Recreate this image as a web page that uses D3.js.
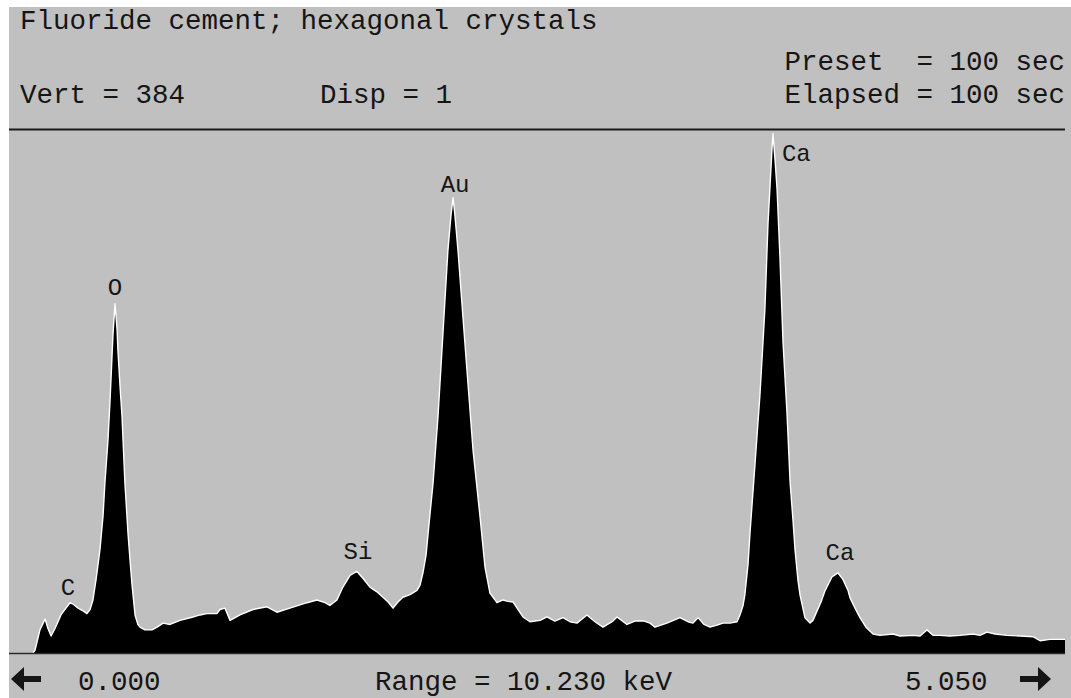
<!DOCTYPE html>
<html>
<head>
<meta charset="utf-8">
<script src="https://cdn.jsdelivr.net/npm/d3@7"></script>
<style>
  html, body { margin: 0; padding: 0; background: #ffffff; }
  svg { display: block; }
  text { font-family: "Liberation Mono", "DejaVu Sans Mono", monospace; fill: #151515; white-space: pre; }
</style>
</head>
<body>
<svg id="chart" width="1071" height="698"></svg>
<script>
// EDS spectrum: energy (keV) and counts per channel
const energyKeV = [
  0.116, 0.126, 0.150, 0.175, 0.189, 0.204, 0.223, 0.252, 0.276, 0.296,
  0.310, 0.335, 0.359, 0.378, 0.393, 0.407, 0.422, 0.441, 0.456, 0.465,
  0.480, 0.490, 0.504, 0.514, 0.524, 0.528, 0.538, 0.548, 0.562, 0.577,
  0.587, 0.596, 0.611, 0.625, 0.635, 0.659, 0.693, 0.718, 0.747, 0.781,
  0.829, 0.892, 0.926, 0.960, 1.008, 1.023, 1.047, 1.072, 1.120, 1.183,
  1.251, 1.299, 1.362, 1.445, 1.493, 1.532, 1.556, 1.590, 1.619, 1.653,
  1.687, 1.716, 1.750, 1.784, 1.813, 1.838, 1.862, 1.886, 1.910, 1.944,
  1.978, 1.993, 2.007, 2.022, 2.032, 2.056, 2.080, 2.104, 2.128, 2.143,
  2.153, 2.162, 2.177, 2.201, 2.225, 2.250, 2.284, 2.308, 2.332, 2.366,
  2.395, 2.419, 2.444, 2.492, 2.526, 2.575, 2.608, 2.647, 2.686, 2.720,
  2.754, 2.802, 2.841, 2.880, 2.928, 2.948, 2.996, 3.035, 3.079, 3.108,
  3.132, 3.190, 3.253, 3.292, 3.316, 3.341, 3.370, 3.399, 3.433, 3.462,
  3.496, 3.530, 3.544, 3.559, 3.568, 3.583, 3.593, 3.617, 3.641, 3.665,
  3.680, 3.690, 3.699, 3.704, 3.714, 3.724, 3.738, 3.753, 3.772, 3.787,
  3.801, 3.811, 3.825, 3.835, 3.859, 3.884, 3.898, 3.918, 3.937, 3.956,
  3.990, 4.019, 4.044, 4.068, 4.078, 4.102, 4.126, 4.155, 4.189, 4.223,
  4.286, 4.320, 4.383, 4.417, 4.451, 4.480, 4.514, 4.562, 4.611, 4.674,
  4.708, 4.742, 4.781, 4.839, 4.902, 4.965, 4.999, 5.047, 5.120
];
const counts = [
  0, 2, 17, 25, 18, 12.5, 18, 28, 33, 37,
  36, 33, 31, 29, 32, 39, 54, 76, 101, 125,
  157, 186, 234, 257, 238, 223, 197, 174, 125, 88,
  68, 51, 28, 21, 19, 17, 17, 19, 22, 21,
  24, 26.5, 28, 29, 29, 32, 33, 24, 28, 32,
  34, 30, 33, 37, 39, 37, 35, 39, 48.5, 57,
  60, 55, 48.5, 45, 41, 37.5, 33, 37.5, 41, 43,
  46, 50, 59, 72, 88, 125, 174, 235, 296, 322,
  335, 322, 296, 247, 199, 149, 100, 63, 44, 37,
  39, 38, 37.5, 26.5, 23, 24, 26.5, 23.5, 26, 23,
  22, 28, 23, 19, 23.5, 26.5, 21, 23.5, 23.5, 22,
  19, 22, 26, 23, 22, 26, 21, 19, 20.5, 22,
  22, 23, 28, 35, 43, 65, 89, 139, 190, 253,
  316, 344, 370, 382, 363, 341, 291, 228, 177, 126,
  98, 76, 54, 43, 26, 22, 24, 31, 37.5, 45.6,
  56, 59, 54, 46, 40.5, 33, 26, 19, 14, 13,
  14, 12.5, 13, 12.5, 17, 13, 13, 12.5, 13, 14,
  13, 15.4, 14, 13, 12.5, 12, 9, 10, 10
];

// Element markers
const peakLabels = ["C", "O", "Si", "Au", "Ca", "Ca"];
const peakEnergyKeV = [0.296, 0.514, 1.687, 2.153, 3.704, 4.019];

// Header and footer readouts
const titleText = "Fluoride cement; hexagonal crystals";
const vertText = "Vert = 384";
const dispText = "Disp = 1";
const presetText = "Preset  = 100 sec";
const elapsedText = "Elapsed = 100 sec";
const startText = "0.000";
const rangeText = "Range = 10.230 keV";
const cursorText = "5.050";

const W = 1071, H = 698;
const frame = { left: 9, top: 7, right: 1071 };
const plot = { left: 9, right: 1065, top: 131, bottom: 653 };

const svg = d3.select("#chart");

// screen background
svg.append("rect").attr("x", 0).attr("y", 0).attr("width", W).attr("height", H).attr("fill", "#ffffff");
svg.append("rect")
  .attr("x", frame.left).attr("y", frame.top)
  .attr("width", frame.right - frame.left).attr("height", H - frame.top)
  .attr("fill", "#c0c0c0");

const x = d3.scaleLinear().domain([0, 5.12]).range([plot.left, plot.right]);
const y = d3.scaleLinear().domain([0, 384]).range([plot.bottom, plot.top]);

const spectrum = energyKeV.map((e, i) => ({ e, c: counts[i] }));

// filled spectrum
svg.append("path")
  .datum(spectrum)
  .attr("fill", "#000000")
  .attr("d", d3.area().x(d => x(d.e)).y0(y(0)).y1(d => y(d.c)));

// bright outline along the spectrum top
svg.append("path")
  .datum(spectrum)
  .attr("fill", "none")
  .attr("stroke", "#ffffff")
  .attr("stroke-width", 1.4)
  .attr("stroke-linejoin", "round")
  .attr("d", d3.line().x(d => x(d.e)).y(d => y(d.c)));

// baseline
svg.append("line")
  .attr("x1", plot.left).attr("x2", plot.right)
  .attr("y1", plot.bottom + 0.5).attr("y2", plot.bottom + 0.5)
  .attr("stroke", "#2a2a2a").attr("stroke-width", 1.5);

// separator under the header
svg.append("line")
  .attr("x1", plot.left).attr("x2", plot.right)
  .attr("y1", 129.5).attr("y2", 129.5)
  .attr("stroke", "#1a1a1a").attr("stroke-width", 2.2);

// text helper
const big = 27.5;
function txt(s, tx, ty, size, anchor) {
  return svg.append("text")
    .attr("x", tx).attr("y", ty)
    .attr("font-size", size)
    .attr("text-anchor", anchor || "start")
    .attr("xml:space", "preserve")
    .text(s);
}

// header readouts
txt(titleText, 20, 29, big);
txt(vertText, 20, 103, big);
txt(dispText, 320, 103, big);
txt(presetText, 1065, 70, big, "end");
txt(elapsedText, 1065, 103, big, "end");

// footer readouts
txt(startText, 78, 690, big);
txt(rangeText, 375, 690, big);
txt(cursorText, 905, 690, big);

// scroll arrows
const ay = 679;
svg.append("path")
  .attr("d", d3.line()([[11, ay], [24, ay - 12], [24, ay - 3], [41, ay - 3], [41, ay + 3], [24, ay + 3], [24, ay + 12]]) + "Z")
  .attr("fill", "#151515");
svg.append("path")
  .attr("d", d3.line()([[1051, ay], [1038, ay - 12], [1038, ay - 3], [1020, ay - 3], [1020, ay + 3], [1038, ay + 3], [1038, ay + 12]]) + "Z")
  .attr("fill", "#151515");

// element labels above their peaks
const labelStyle = [
  { dx: -2, dy: -8, anchor: "middle" },
  { dx: 0, dy: -9, anchor: "middle" },
  { dx: 1, dy: -12, anchor: "middle" },
  { dx: 2, dy: -6, anchor: "middle" },
  { dx: 9, dy: 27, anchor: "start" },
  { dx: 2, dy: -13, anchor: "middle" }
];
const bisect = d3.bisector(d => d.e).center;
peakLabels.forEach((lab, i) => {
  const e = peakEnergyKeV[i];
  const pt = spectrum[bisect(spectrum, e)];
  const s = labelStyle[i];
  txt(lab, x(e) + s.dx, y(pt.c) + s.dy, 24, s.anchor);
});
</script>
</body>
</html>
